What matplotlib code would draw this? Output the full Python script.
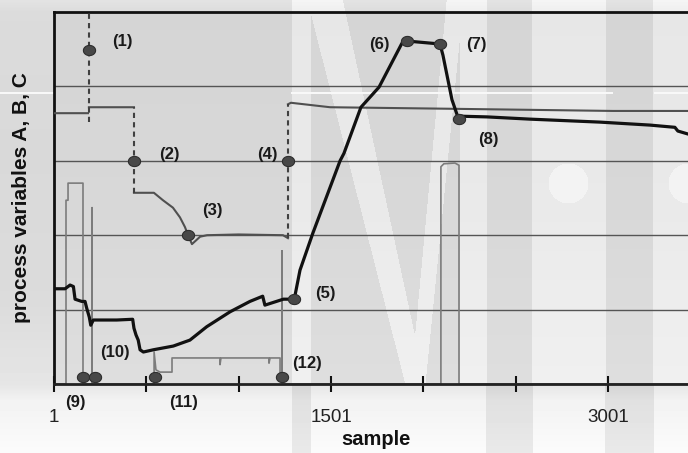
import numpy as np
import matplotlib
matplotlib.use("Agg")
from matplotlib import pyplot as plt
from matplotlib.path import Path

plt.rcParams['font.family'] = ['Liberation Sans', 'DejaVu Sans']

nan = np.nan

# process variable A (gray, solid parts), NaN = jump drawn dotted
a_x = [1, 185, nan, 190, 434, nan, 434, 542, 591, 645, 683, 710, 727, 748, 792, 830, 1000, 1241, 1268,
       nan, 1268, 1284, 1496, 2129, 3028, 3434]
a_y = [3.64, 3.64, nan, 3.72, 3.72, nan, 2.57, 2.57, 2.47, 2.37, 2.24, 2.11, 2.00, 1.88, 1.98, 2.00, 2.01, 2.00, 1.96,
       nan, 3.76, 3.78, 3.72, 3.70, 3.67, 3.67]
# dotted jumps of A
jump_x = [188, 434, 1268]
jump_lo = [3.52, 2.57, 1.96]
jump_hi = [5.0, 3.72, 3.76]

# process variable B (black, thick)
b_x = [1, 61, 88, 106, 115, 151, 169, 178, 192, 200, 214, 341, 427, 434, 445, 457, 467, 485, 539, 647, 737,
       828, 954, 1062, 1131, 1143, 1243, 1302, 1333, 1403, 1550, 1571, 1663, 1761, 1885, 1912, 2091, 2107,
       2156, 2189, 2194, 2346, 2578, 2957, 3228, 3363, 3379, 3434]
b_y = [1.28, 1.28, 1.33, 1.31, 1.14, 1.11, 1.11, 1.02, 0.90, 0.79, 0.86, 0.86, 0.87, 0.75, 0.66, 0.59, 0.46,
       0.43, 0.46, 0.51, 0.59, 0.77, 0.97, 1.11, 1.18, 1.06, 1.14, 1.14, 1.53, 2.03, 3.00, 3.10, 3.72, 3.99,
       4.58, 4.61, 4.57, 4.42, 3.82, 3.58, 3.60, 3.59, 3.56, 3.52, 3.48, 3.45, 3.40, 3.36]

# process variable C (light gray pulses)
c_x = [1, 66, 66, 77, 77, 158, 158, 207, 207, 207, 543, 543, 553, 575, 640, 640, 900, 900, 905, 1165, 1165,
       1171, 1225, 1225, 1236, 1236, 1236, 2096, 2096, 2112, 2172, 2194, 2194, 3434]
c_y = [0, 0, 2.47, 2.47, 2.70, 2.70, 0, 0, 2.37, 0, 0, 0.43, 0.19, 0.16, 0.16, 0.35, 0.35, 0.26, 0.35, 0.35,
       0.28, 0.35, 0.35, 0.09, 0.09, 1.79, 0, 0, 2.92, 2.96, 2.97, 2.94, 0, 0]

# marked events
ev_x = [190, 434, 727, 1270, 1302, 1912, 2091, 2194, 160, 223, 548, 1237]
ev_y = [4.49, 3.00, 2.00, 3.00, 1.14, 4.61, 4.57, 3.56, 0.09, 0.09, 0.09, 0.09]

lab_txt = ['(1)', '(2)', '(3)', '(4)', '(5)', '(6)', '(7)', '(8)', '(9)', '(10)', '(11)', '(12)']
lab_x = [369, 624, 856, 1154, 1468, 1761, 2286, 2351, 115, 331, 700, 1371]
lab_y = [4.60, 3.08, 2.33, 3.09, 1.22, 4.56, 4.56, 3.28, -0.255, 0.42, -0.255, 0.28]

tick_pos = [1, 501, 1001, 1501, 2001, 2501, 3001]
tick_lab = ['1', '', '', '1501', '', '', '3001']
grid_y = [1, 2, 3, 4]

W, H = 688, 453
fig = plt.figure(figsize=(6.88, 4.53), dpi=100)

# ---- background (gradient + watermark-like bands) ----
yy, xx = np.mgrid[0:H, 0:W]
bg = np.interp(yy, [0, 12, 150, 300, 384, 400, 453], [0.89, 0.86, 0.85, 0.86, 0.90, 0.95, 0.985])
inside = (xx >= 54) & (yy >= 12) & (yy <= 384)
bg[inside] = np.interp(yy[inside], [12, 200, 384], [0.835, 0.845, 0.87])
light = np.zeros_like(bg, dtype=bool)
for x0, x1 in [(292, 310), (460, 486), (532, 605), (653, 688)]:
    light |= (xx >= x0) & (xx <= x1)
# diagonals of the "M"
t = (yy - 12) / 372.0
light |= (xx >= 310 + 95 * t) & (xx <= 345 + 80 * t)
light |= (xx >= 445 - 35 * t) & (xx <= 462 - 37 * t)
circ = ((xx - 568) ** 2 + (yy - 183) ** 2 < 20 ** 2) | ((xx - 688) ** 2 + (yy - 183) ** 2 < 20 ** 2)
top = yy <= 384
bg[light & top] += 0.07
bg[circ] += 0.04
dark = np.zeros_like(bg, dtype=bool)
for x0, x1 in [(292, 310), (486, 532), (605, 653)]:
    dark |= (xx >= x0) & (xx <= x1)
bg[dark & ~top] -= 0.07
wl = (yy >= 92) & (yy <= 93) & ((xx < 54) | ((xx > 290) & (xx < 613)) | (xx > 653))
bg[wl] = 0.97
bg = np.clip(bg, 0, 1)

bax = fig.add_axes([0, 0, 1, 1], zorder=-10)
bax.imshow(bg, cmap='gray', vmin=0, vmax=1, extent=(0, W, H, 0), aspect='auto', interpolation='bilinear')
bax.set_xlim(0, W)
bax.set_ylim(H, 0)
bax.axis('off')

# ---- main chart ----
ax = fig.add_axes([54 / W, (H - 384) / H, (W - 54) / W, 372 / H])
ax.set_facecolor('none')

for g in grid_y:
    ax.axhline(g, color='#555555', lw=1.0, zorder=1)

ax.plot(c_x, c_y, color='#7c7c7c', lw=1.2, zorder=2)
ax.plot(a_x, a_y, color='#505050', lw=1.5, zorder=3)
ax.vlines(jump_x, jump_lo, jump_hi, colors='#404040', lw=1.5, linestyles=(0, (2.5, 2)), zorder=3)
ax.plot(b_x, b_y, color='#111111', lw=2.3, zorder=4)

th = np.linspace(0, 2 * np.pi, 41)
ell = Path(np.column_stack([1.2 * np.cos(th), np.sin(th)]), closed=True)
ax.plot(ev_x, ev_y, ls='none', marker=ell, ms=8.8, mfc='#484848', mec='#2e2e2e', mew=0.8,
        zorder=6, clip_on=False)

for s, x, y in zip(lab_txt, lab_x, lab_y):
    ax.text(x, y, s, fontsize=12, fontweight='bold', color='#1a1a1a', ha='center', va='center', clip_on=False)

ax.set_xticks(tick_pos)
ax.set_xticklabels(tick_lab, fontsize=13.5, color='#222222')
ax.set_yticks([])
ax.tick_params(axis='x', direction='inout', length=11.5, width=1.5, color='#111111', pad=12)
ax.set_xlim(1, 3434)
ax.set_ylim(0, 5)

for side in ['top', 'left']:
    ax.spines[side].set_linewidth(2.0)
    ax.spines[side].set_color('#111111')
ax.spines['bottom'].set_linewidth(2.0)
ax.spines['bottom'].set_color('#222222')
ax.spines['right'].set_visible(False)

ax.set_xlabel('sample', fontsize=14.5, fontweight='bold', color='#111111')
ax.xaxis.set_label_coords(0.508, -0.123)
ax.set_ylabel('process variables A, B, C', fontsize=15, fontweight='bold', color='#111111')
ax.yaxis.set_label_coords(-0.036, 0.5)

fig.savefig('out.png', dpi=100)
